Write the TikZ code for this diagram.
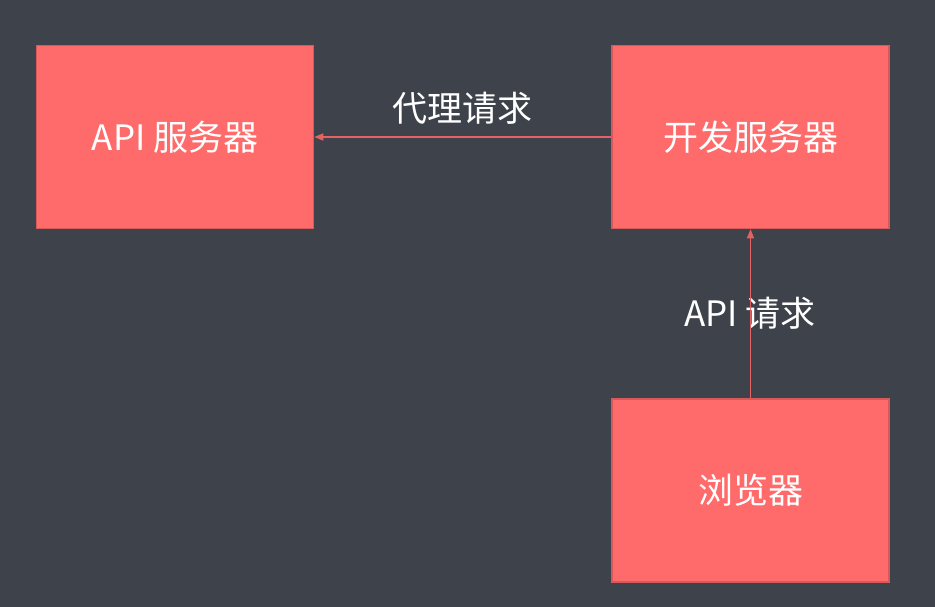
\documentclass[tikz,border=0pt]{standalone}
\usepackage{fontspec}
\setmainfont{Noto Sans CJK SC}
\usetikzlibrary{arrows.meta}
\definecolor{bg}{HTML}{3E424A}
\definecolor{boxfill}{HTML}{FF6A6A}
\definecolor{boxline}{HTML}{D65A5C}
\definecolor{arrowc}{HTML}{E46262}
\begin{document}
\begin{tikzpicture}[x=1pt,y=-1pt,
  box/.style={draw=boxline,line width=1.5pt,fill=boxfill,minimum width=277pt,minimum height=183pt,inner sep=0pt,text=white,font=\fontsize{35}{42}\selectfont},
  lbl/.style={text=white,font=\fontsize{35}{42}\selectfont,inner sep=0pt},
  conn/.style={draw=arrowc,line width=1.5pt,-{Triangle[length=9pt,width=7pt]}}]
\fill[bg] (0,0) rectangle (935,607);
\useasboundingbox (0,0) rectangle (935,607);
\node[box] (api) at (175,137) {API 服务器};
\node[box] (dev) at (750.5,137) {开发服务器};
\node[box] (browser) at (750.5,490.5) {浏览器};
\node[lbl] (l1) at (462,108) {代理请求};
\node[lbl] (l2) at (750,313) {API 请求};
\draw[conn] (dev.west) -- (api.east);
\draw[conn] (browser.north) -- (dev.south);
\end{tikzpicture}
\end{document}
